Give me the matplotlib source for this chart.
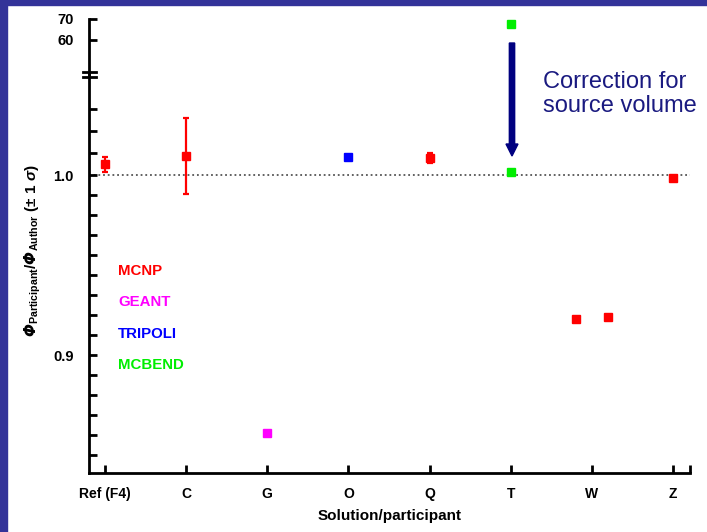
import numpy as np
import matplotlib
matplotlib.use("Agg")
import matplotlib.pyplot as plt
from matplotlib.lines import Line2D
from matplotlib.patches import FancyArrow, Rectangle

plt.rcParams["font.family"] = ["Liberation Sans", "DejaVu Sans"]
plt.rcParams["mathtext.fontset"] = "custom"
plt.rcParams["mathtext.rm"] = "Liberation Sans:bold"
plt.rcParams["mathtext.it"] = "Liberation Sans:bold:italic"
plt.rcParams["mathtext.bf"] = "Liberation Sans:bold"
# mathtext forces capital Greek upright in "it"; route the flux symbol via "sf"
plt.rcParams["mathtext.sf"] = "DejaVu Sans:bold:italic"

# ── data ────────────────────────────────────────────────────────────────────
participants = ["Ref (F4)", "C", "G", "O", "Q", "T", "W", "Z"]

# x position, ratio, 1-sigma and code of each solution
x_pos  = [0, 1, 2, 3, 4, 5, 5.8, 6.2, 7]
ratio  = [1.0061, 1.0107, 0.8568, 1.0102, 1.0095, 1.0017, 0.9202, 0.9213, 0.9983]
sigma  = [0.0043, 0.0213, 0.0, 0.0, 0.0028, 0.0, 0.0, 0.0, 0.0]
code   = ["MCNP", "MCNP", "GEANT", "TRIPOLI", "MCNP", "MCBEND", "MCNP", "MCNP", "MCNP"]

# T before the source-volume correction (off the lower scale)
t_uncorr_x = 5
t_uncorr   = 67.4

code_colors = {"MCNP": "#ff0000", "GEANT": "#ff00ff",
               "TRIPOLI": "#0000ff", "MCBEND": "#00ee00"}
codes = ["MCNP", "GEANT", "TRIPOLI", "MCBEND"]

lower_minor = [1.0369, 1.0247, 1.0124, 0.9889, 0.9778, 0.9667, 0.9556, 0.9444,
               0.9333, 0.9222, 0.9111, 0.8889, 0.8778, 0.8667, 0.8556, 0.8444]

NAVY  = "#000080"
FRAME = "#333399"

# ── figure / axes ───────────────────────────────────────────────────────────
W, H = 707, 532
fig = plt.figure(figsize=(W / 100, H / 100), dpi=100)
fig.patch.set_facecolor("white")

# frame strips on the left and top edges
fig.add_artist(Rectangle((0, 0), 7 / W, 1, transform=fig.transFigure,
                         color=FRAME, zorder=0))
fig.add_artist(Rectangle((0, 1 - 5 / H), 1, 5 / H, transform=fig.transFigure,
                         color=FRAME, zorder=0))

x0, x1 = 89 / W, 690 / W
y_bot, y_brk, y_top = 1 - 473 / H, 1 - 74 / H, 1 - 19 / H
ax  = fig.add_axes([x0, y_bot, x1 - x0, y_brk - y_bot])
axt = fig.add_axes([x0, y_brk, x1 - x0, y_top - y_brk], sharex=ax)

for a in (ax, axt):
    a.patch.set_alpha(0)
    for s in ("top", "right"):
        a.spines[s].set_visible(False)
    a.spines["left"].set_linewidth(2)
    a.tick_params(axis="y", which="both", direction="in", length=6, width=2,
                  labelsize=10.5, pad=11)

axt.spines["bottom"].set_visible(False)
axt.tick_params(axis="x", which="both", bottom=False, labelbottom=False)

ax.spines["bottom"].set_linewidth(2)
ax.set_xlim(-0.197, 7.21)
ax.set_xticks(range(len(participants)))
ax.set_xticklabels(participants, fontweight="bold", fontsize=10)
ax.set_xticks([7.21], minor=True)
ax.tick_params(axis="x", which="both", direction="in", length=6, width=2, pad=10)

ax.set_ylim(0.8345, 1.0564)
ax.set_yticks([0.9, 1.0])
ax.set_yticklabels(["0.9", "1.0"], fontweight="bold")
ax.set_yticks(lower_minor, minor=True)

axt.set_ylim(43.4, 70)
axt.set_yticks([60, 70])
axt.set_yticklabels(["60", "70"], fontweight="bold")

# axis break marks
for py in (72, 76.5):
    fig.add_artist(Line2D([83 / W, 96 / W], [1 - py / H, 1 - py / H],
                          transform=fig.transFigure, color="black", lw=2))

# reference line at ratio 1
ax.plot([-0.197, 7.21], [1.0, 1.0], color="#555555", lw=1.3,
        linestyle=(0, (1, 1.6)), zorder=1)

# ── points ──────────────────────────────────────────────────────────────────
for xi, yi, si, ci in zip(x_pos, ratio, sigma, code):
    col = code_colors[ci]
    if si > 0:
        ax.errorbar(xi, yi, yerr=si, fmt="s", color=col, ms=6.3, mec=col,
                    elinewidth=1.6, capsize=2.5, capthick=1.6, zorder=3)
    else:
        ax.plot(xi, yi, "s", color=col, ms=6.3, zorder=3)

axt.plot(t_uncorr_x, t_uncorr, "s", color=code_colors["MCBEND"], ms=6.3,
         clip_on=False)

# correction arrow from the uncorrected to the corrected T value
fig.add_artist(FancyArrow(512 / W, 1 - 43 / H, 0, -(113 / H), width=4 / H,
                          head_width=12 / W, head_length=12 / H,
                          length_includes_head=True, color=NAVY,
                          transform=fig.transFigure))
fig.text(543 / W, 1 - 94 / H, "Correction for\nsource volume", color="#1a1a80",
         fontsize=17, ha="left", va="center", linespacing=1.15)

# code legend
for k, name in enumerate(codes):
    fig.text(118 / W, 1 - (270.7 + 31.5 * k) / H, name, color=code_colors[name],
             fontsize=10.8, fontweight="bold", ha="left", va="center")

ax.set_xlabel("Solution/participant", fontweight="bold", fontsize=11, labelpad=6)
fig.text(33 / W, 1 - 250 / H,
         r"$\mathsf{Φ}_{\mathrm{Participant}}/\mathsf{Φ}_{\mathrm{Author}}$"
         r" $\mathrm{(\pm\ 1}\ \mathit{\sigma}\mathrm{)}$",
         rotation=90, ha="center", va="center", fontsize=11)

fig.savefig("out.png", dpi=100)
